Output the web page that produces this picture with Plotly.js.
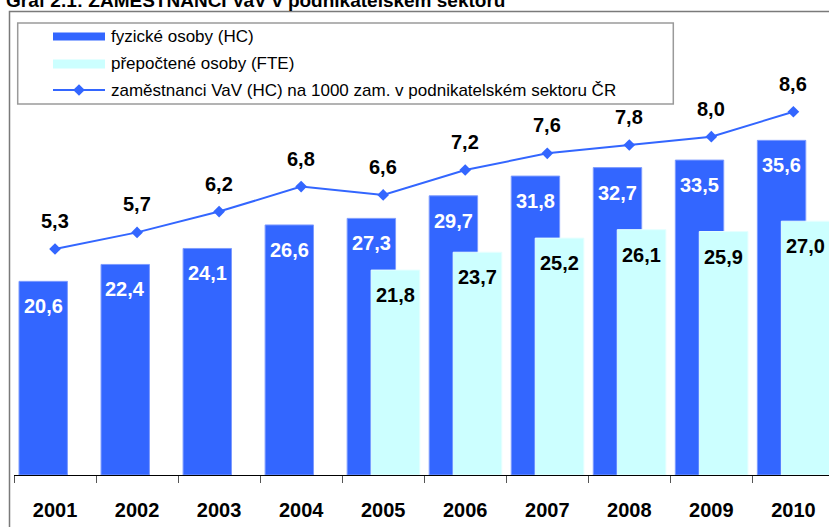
<!DOCTYPE html>
<html>
<head>
<meta charset="utf-8">
<script src="https://cdn.plot.ly/plotly-3.0.1.min.js"></script>
<style>html,body{margin:0;padding:0;background:#fff;}#chart{width:829px;height:527px;}</style>
</head>
<body>
<div id="chart"></div>
<script>
// ---- data ----
const years = ['2001','2002','2003','2004','2005','2006','2007','2008','2009','2010'];
const hcValues = [20.6, 22.4, 24.1, 26.6, 27.3, 29.7, 31.8, 32.7, 33.5, 35.6];
const fteValues = [null, null, null, null, 21.8, 23.7, 25.2, 26.1, 25.9, 27.0];
const ratioValues = [5.3, 5.7, 6.2, 6.8, 6.6, 7.2, 7.6, 7.8, 8.0, 8.6];
const titleText = 'Graf 2.1: ZAMĚSTNANCI VaV v podnikatelském sektoru';
const legendNames = ['fyzické osoby (HC)', 'přepočtené osoby (FTE)', 'zaměstnanci VaV (HC) na 1000 zam. v podnikatelském sektoru ČR'];

// ---- styling / geometry ----
const FONT = 'Liberation Sans, Arial, Helvetica, sans-serif';
const BLUE = '#3366FF';
const CYAN = '#CCFFFF';
const W = 829, H = 527;
const M = {l: 14, r: 0, t: 20, b: 52};
const PW = W - M.l - M.r, PH = H - M.t - M.b;
const xp = px => (px - M.l) / PW;
const yp = py => (H - M.b - py) / PH;

const hcOffset = -0.439, hcWidth = 0.59;
const fteOffset = -0.147, fteWidth = 0.593;

const fmt = v => v.toFixed(1).replace('.', ',');

const traces = [
  {type: 'bar', name: legendNames[0], x: years, y: hcValues, offset: hcOffset, width: hcWidth,
   marker: {color: BLUE, line: {color: '#7d9bff', width: 1}}, hoverinfo: 'skip'},
  {type: 'bar', name: legendNames[1], x: years, y: fteValues, offset: fteOffset, width: fteWidth,
   marker: {color: CYAN, line: {color: '#e6ffff', width: 1}}, hoverinfo: 'skip'},
  {type: 'scatter', mode: 'lines+markers', name: legendNames[2], x: years, y: ratioValues, yaxis: 'y2',
   line: {color: BLUE, width: 2}, marker: {symbol: 'diamond', size: 9, color: BLUE},
   cliponaxis: false, hoverinfo: 'skip'}
];

const annotations = [];
years.forEach((yr, i) => {
  annotations.push({x: i + hcOffset + hcWidth / 2, y: hcValues[i], xref: 'x', yref: 'y',
    text: fmt(hcValues[i]), showarrow: false, yanchor: 'middle', yshift: -25,
    font: {family: FONT, size: 20, color: '#FFFFFF', weight: 'bold'}});
  if (fteValues[i] !== null) {
    annotations.push({x: i + fteOffset + fteWidth / 2, y: fteValues[i], xref: 'x', yref: 'y',
      text: fmt(fteValues[i]), showarrow: false, yanchor: 'middle', yshift: -25,
      font: {family: FONT, size: 20, color: '#000000', weight: 'bold'}});
  }
  annotations.push({x: i, y: ratioValues[i], xref: 'x', yref: 'y2',
    text: fmt(ratioValues[i]), showarrow: false, yanchor: 'middle', yshift: 28,
    font: {family: FONT, size: 20, color: '#000000', weight: 'bold'}});
});

// title (cropped at top, as in the reference)
annotations.push({xref: 'paper', yref: 'paper', x: xp(4), y: yp(1), xanchor: 'left', yanchor: 'middle',
  text: titleText, showarrow: false, font: {family: FONT, size: 19, color: '#000', weight: 'bold'}});

// legend texts
const legendRows = [36.5, 63.5, 90];
legendNames.forEach((n, i) => {
  annotations.push({xref: 'paper', yref: 'paper', x: xp(109), y: yp(legendRows[i]), xanchor: 'left', yanchor: 'middle',
    text: n, showarrow: false, font: {family: FONT, size: 17, color: '#000'}});
});

const d = 5.8;
const shapes = [
  // outer chart frame
  {type: 'rect', xref: 'paper', yref: 'paper', x0: xp(9.5), x1: xp(900), y0: yp(11.5), y1: yp(600),
   line: {color: '#7a7a7a', width: 1.5}, fillcolor: 'rgba(0,0,0,0)', layer: 'above'},
  // legend box
  {type: 'rect', xref: 'paper', yref: 'paper', x0: xp(17.7), x1: xp(673.3), y0: yp(23), y1: yp(104),
   line: {color: '#9a9a9a', width: 1.5}, fillcolor: '#FFFFFF', layer: 'above'},
  {type: 'rect', xref: 'paper', yref: 'paper', x0: xp(53), x1: xp(105), y0: yp(32.5), y1: yp(40.5),
   line: {width: 0}, fillcolor: BLUE, layer: 'above'},
  {type: 'rect', xref: 'paper', yref: 'paper', x0: xp(53), x1: xp(105), y0: yp(59.5), y1: yp(68.5),
   line: {width: 0}, fillcolor: CYAN, layer: 'above'},
  {type: 'line', xref: 'paper', yref: 'paper', x0: xp(53), x1: xp(105), y0: yp(90), y1: yp(90),
   line: {color: BLUE, width: 2}, layer: 'above'},
  {type: 'path', xref: 'paper', yref: 'paper', layer: 'above', fillcolor: BLUE, line: {width: 0},
   path: `M ${xp(79 - d)},${yp(90)} L ${xp(79)},${yp(90 - d)} L ${xp(79 + d)},${yp(90)} L ${xp(79)},${yp(90 + d)} Z`}
];

const layout = {
  width: W, height: H,
  margin: M,
  paper_bgcolor: '#FFFFFF', plot_bgcolor: '#FFFFFF',
  showlegend: false,
  barmode: 'overlay',
  separators: ', ',
  font: {family: FONT, color: '#000'},
  xaxis: {type: 'category', range: [-0.5, -0.5 + PW / 82.04], tickson: 'boundaries',
    ticks: 'outside', ticklen: 7, tickcolor: '#555', tickwidth: 1,
    showline: true, linecolor: '#000', linewidth: 1, showgrid: false, zeroline: false,
    tickfont: {family: FONT, size: 20, color: '#000', weight: 'bold'}, ticklabelstandoff: 17,
    automargin: false, fixedrange: true},
  yaxis: {range: [0, PH / 9.4], visible: false, fixedrange: true},
  yaxis2: {overlaying: 'y', range: [-5.5 / 41.6, (475 - 5.5 - M.t) / 41.6], visible: false, fixedrange: true},
  annotations: annotations,
  shapes: shapes
};

Plotly.newPlot('chart', traces, layout, {staticPlot: true, displayModeBar: false});
</script>
</body>
</html>
